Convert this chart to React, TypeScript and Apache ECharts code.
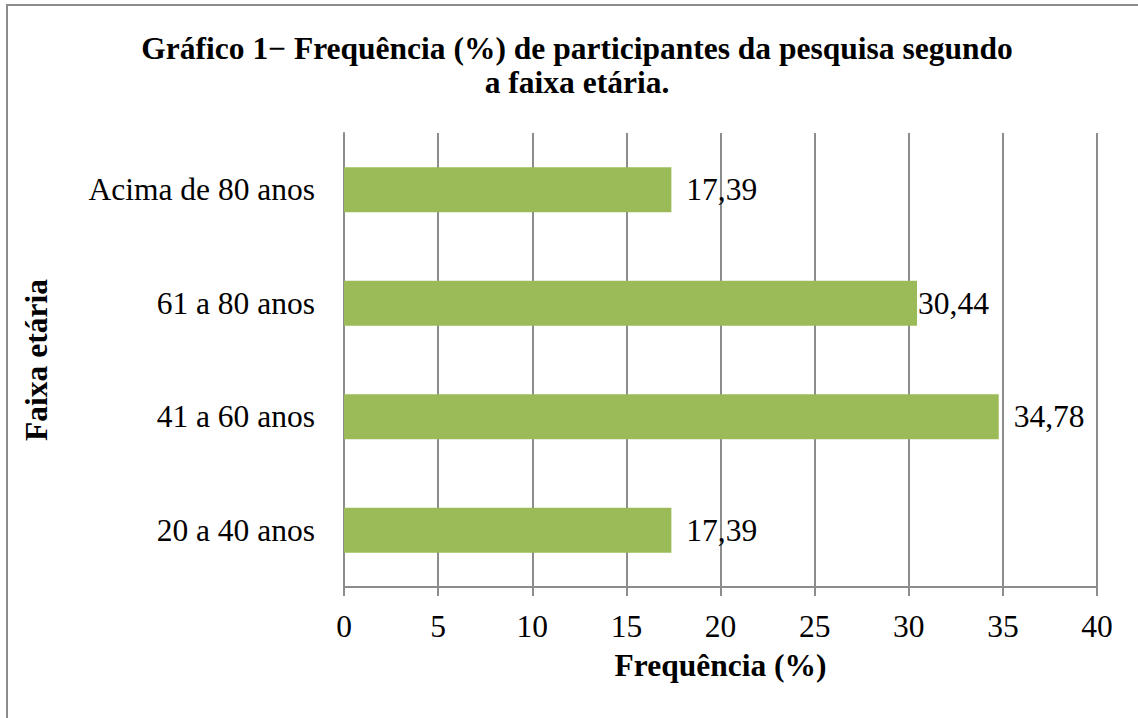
import React, { useEffect, useRef } from "react";
import * as echarts from "echarts";

const categories = ["20 a 40 anos", "41 a 60 anos", "61 a 80 anos", "Acima de 80 anos"];
const values = [17.39, 34.78, 30.44, 17.39];
const labelDistances = [15, 15, 1, 15];
const xTicks = { min: 0, max: 40, interval: 5 };

const FONT = "'Liberation Serif', 'Times New Roman', serif";
const FS = 31.5;

export default function App() {
  const ref = useRef<HTMLDivElement>(null);
  useEffect(() => {
    document.body.style.margin = "0";
    const chart = echarts.init(ref.current!, null, { renderer: "svg" });
    chart.setOption({
      animation: false,
      backgroundColor: "#ffffff",
      title: {
        text: "Gráfico 1− Frequência (%) de participantes da pesquisa segundo\na faixa etária.",
        left: 572,
        top: 26,
        padding: 5,
        textAlign: "center",
        textStyle: {
          fontFamily: FONT,
          fontWeight: "bold",
          fontSize: FS,
          lineHeight: 34,
          color: "#000",
          align: "center",
        },
      },
      graphic: [
        {
          type: "rect",
          shape: { x: 7, y: 5, width: 1160, height: 760 },
          style: { fill: "none", stroke: "#8c8c8c", lineWidth: 2 },
          silent: true,
        },
      ],
      grid: { left: 344, right: 41, top: 133, bottom: 131, containLabel: false },
      xAxis: {
        type: "value",
        min: xTicks.min,
        max: xTicks.max,
        interval: xTicks.interval,
        name: "Frequência (%)",
        nameLocation: "middle",
        nameGap: 62,
        nameTextStyle: { fontFamily: FONT, fontWeight: "bold", fontSize: FS, color: "#000" },
        axisLine: { show: true, lineStyle: { color: "#8c8c8c", width: 2 } },
        axisTick: { show: true, length: 9, lineStyle: { color: "#8c8c8c", width: 2 } },
        axisLabel: { fontFamily: FONT, fontSize: FS, color: "#000", margin: 23 },
        splitLine: { show: true, lineStyle: { color: "#8c8c8c", width: 2 } },
      },
      yAxis: {
        type: "category",
        data: categories,
        name: "Faixa etária",
        nameLocation: "middle",
        nameGap: 292,
        nameRotate: 90,
        nameTextStyle: { fontFamily: FONT, fontWeight: "bold", fontSize: FS, color: "#000" },
        axisLine: { show: true, lineStyle: { color: "#8c8c8c", width: 2 } },
        axisTick: { show: false },
        axisLabel: { fontFamily: FONT, fontSize: FS, color: "#000", margin: 29 },
        splitLine: { show: false },
      },
      series: [
        {
          type: "bar",
          barWidth: 45,
          itemStyle: { color: "#9bbb59" },
          data: values.map((v, i) => ({
            value: v,
            label: { distance: labelDistances[i] },
          })),
          label: {
            show: true,
            position: "right",
            fontFamily: FONT,
            fontSize: FS,
            color: "#000",
            formatter: (p: any) => p.value.toFixed(2).replace(".", ","),
          },
        },
      ],
    });
    return () => chart.dispose();
  }, []);
  return (
    <div
      ref={ref}
      style={{ position: "fixed", left: 0, top: 0, width: 1138, height: 718 }}
    />
  );
}
